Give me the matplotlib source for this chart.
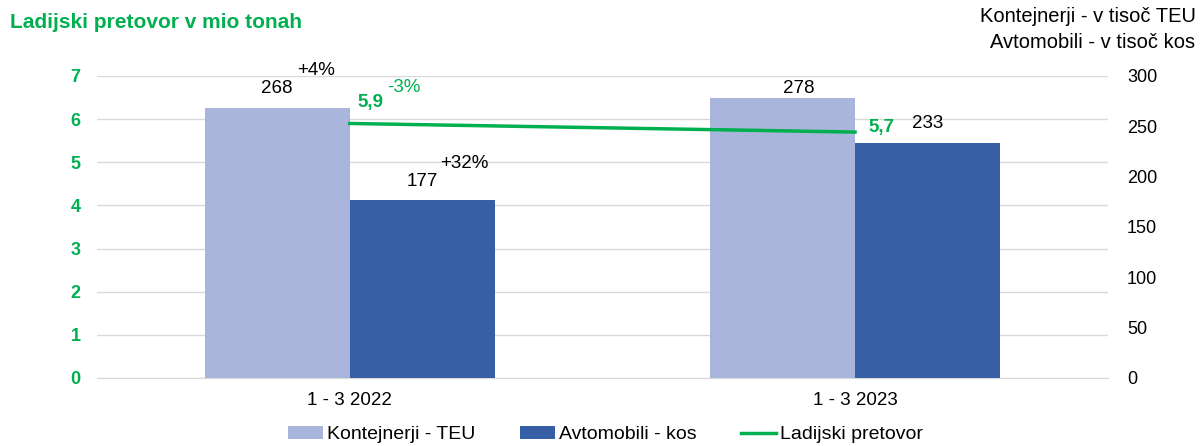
import matplotlib.pyplot as plt
import numpy as np
from matplotlib import font_manager

# font: narrow sans if installed
names = {f.name for f in font_manager.fontManager.ttflist}
fam = 'Liberation Sans Narrow' if 'Liberation Sans Narrow' in names else 'Liberation Sans'
plt.rcParams['font.family'] = [fam, 'DejaVu Sans']

# data
categories = ['1 - 3 2022', '1 - 3 2023']
kontejnerji = [268, 278]       # v tisoc TEU
avtomobili = [177, 233]        # v tisoc kos
pretovor = [5.9, 5.7]          # mio ton
pretovor_lbl = ['5,9', '5,7']
kont_change = '+4%'
avto_change = '+32%'
pret_change = '-3%'

GREEN = '#00B050'
LIGHT = '#A9B5DA'
DARK = '#365FA5'

fig = plt.figure(figsize=(12.04, 4.46), dpi=100)
ax = fig.add_axes([0.0806, 0.1525, 0.8394, 0.6771])
ax2 = ax.twinx()

x = np.arange(len(categories))
w = 0.287

# left axis: grid + green ticks
ax.set_ylim(0, 7)
ax.set_yticks(range(0, 8))
ax.grid(axis='y', color='#D9D9D9', linewidth=1)
ax.set_axisbelow(True)
ax.tick_params(axis='y', length=0, pad=12, labelcolor=GREEN, labelsize=13)
for t in ax.get_yticklabels():
    t.set_fontweight('bold')
ax.set_xlim(-0.5, 1.5)
ax.set_xticks(x)
ax.set_xticklabels(categories, fontsize=13.5)
ax.tick_params(axis='x', length=0, pad=10)
for s in ax.spines.values():
    s.set_visible(False)
ax.spines['bottom'].set_visible(True)
ax.spines['bottom'].set_color('#D9D9D9')

# right axis: bars
ax2.set_ylim(0, 300)
for s in ax2.spines.values():
    s.set_visible(False)

b1 = ax2.bar(x - w / 2, kontejnerji, w, color=LIGHT, label='Kontejnerji - TEU', zorder=2)
b2 = ax2.bar(x + w / 2, avtomobili, w, color=DARK, label='Avtomobili - kos', zorder=2)

# line drawn on top of the bars
ax3 = ax2.twinx()
ax3.set_ylim(0, 7)
ax3.axis('off')
ln, = ax3.plot(x, pretovor, color=GREEN, linewidth=2.5, label='Ladijski pretovor', zorder=3)

ax2.yaxis.tick_right()
ax2.set_yticks(range(0, 301, 50))
ax2.tick_params(axis='y', length=0, pad=14, labelsize=13)

# value labels
lbl = dict(textcoords='offset points', ha='center', va='center', fontsize=13.5)
ax2.annotate(str(kontejnerji[0]), (x[0] - w / 2, kontejnerji[0]), xytext=(0, 14), **lbl)
ax2.annotate(str(kontejnerji[1]), (x[1] - w / 2, kontejnerji[1]), xytext=(12, 7), **lbl)
ax2.annotate(str(avtomobili[0]), (x[0] + w / 2, avtomobili[0]), xytext=(0, 13), **lbl)
ax2.annotate(str(avtomobili[1]), (x[1] + w / 2, avtomobili[1]), xytext=(0, 14), **lbl)
ax2.annotate(kont_change, (x[0] - w / 2, kontejnerji[0]), xytext=(28, 27), **lbl)
ax2.annotate(avto_change, (x[0] + w / 2, avtomobili[0]), xytext=(30, 26.5), **lbl)
ax3.annotate(pretovor_lbl[0], (x[0], pretovor[0]), xytext=(15, 15), color=GREEN,
             fontweight='bold', **lbl)
ax3.annotate(pretovor_lbl[1], (x[1], pretovor[1]), xytext=(19, 3), color=GREEN,
             fontweight='bold', **lbl)
ax3.annotate(pret_change, (x[0], pretovor[0]), xytext=(39, 26), color=GREEN, **lbl)

# titles
fig.text(0.008, 0.95, 'Ladijski pretovor v mio tonah', color=GREEN, fontsize=15,
         fontweight='bold', ha='left', va='center')
fig.text(0.993, 0.962, 'Kontejnerji - v tisoč TEU', fontsize=14.5, ha='right', va='center')
fig.text(0.993, 0.905, 'Avtomobili - v tisoč kos', fontsize=14.5, ha='right', va='center')

fig.legend(handles=[b1, b2, ln], loc='center', bbox_to_anchor=(0.503, 0.025),
           ncol=3, frameon=False, fontsize=14, handlelength=1.8, handleheight=0.6,
           handletextpad=0.2, columnspacing=2.3)

fig.savefig('out.png', dpi=100)
